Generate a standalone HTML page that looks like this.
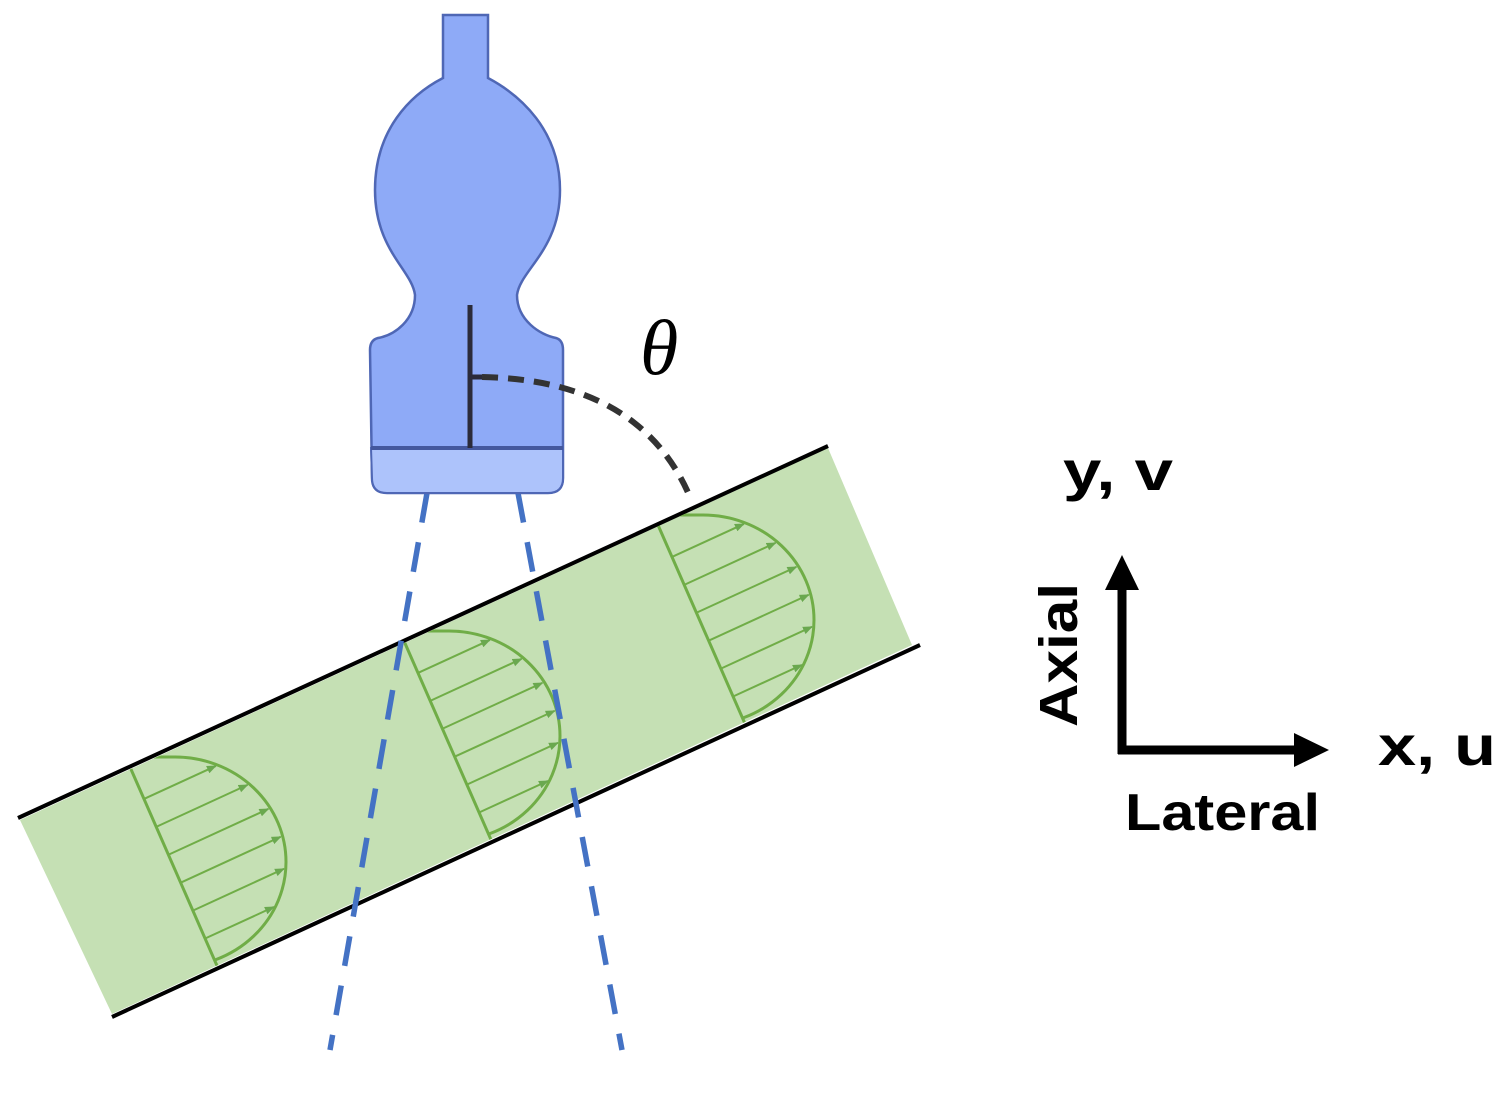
<!DOCTYPE html>
<html><head><meta charset="utf-8"><style>html,body{margin:0;padding:0;background:#fff}svg{display:block}</style></head>
<body>
<svg id="s" width="1500" height="1095" viewBox="0 0 1500 1095" xmlns="http://www.w3.org/2000/svg">
<defs id="defs">
<marker id="ga" viewBox="0 0 10 10" refX="9" refY="5" markerWidth="5" markerHeight="5" orient="auto"><path d="M0,1 L10,5 L0,9 z" fill="#6aa84f"/></marker>
<clipPath id="band"><polygon points="20,820 828,448 912,645 112,1014"/></clipPath>
</defs>
<polygon points="20,820 828,448 912,645 112,1014" fill="#c5e0b4"/>
<line x1="18" y1="818" x2="828" y2="446" stroke="#000" stroke-width="4"/>
<line x1="112" y1="1017" x2="920" y2="645" stroke="#000" stroke-width="4"/>
<g clip-path="url(#band)"><g id="prof" fill="none" stroke="#70ad47" stroke-width="3"></g></g>
<line x1="427" y1="493" x2="330" y2="1050" stroke="#4472c4" stroke-width="5.5" stroke-dasharray="30,20"/>
<line x1="518" y1="493" x2="622" y2="1050" stroke="#4472c4" stroke-width="5.5" stroke-dasharray="30,20"/>
<path d="M443,15 L488,15 L488,78 C520,95 560,130 560,190 C560,250 520,270 517,295 C517,320 540,335 556,338 Q563,340 563,350 L563,478 Q563,493 548,493 L387,493 Q372,493 372,478 L370,350 Q370,340 378,338 C395,335 415,320 415,295 C412,270 375,250 375,190 C375,130 410,95 443,78 Z" fill="#8eaaf7" stroke="#4f67b5" stroke-width="2.5"/>
<path d="M371,448 L563,448 L563,478 Q563,493 548,493 L387,493 Q372,493 372,478 Z" fill="#adc3fb" stroke="#4f67b5" stroke-width="2"/>
<line x1="371" y1="448" x2="563" y2="448" stroke="#44589e" stroke-width="4"/>
<line x1="470" y1="305" x2="470" y2="448" stroke="#2b2b3a" stroke-width="5"/>
<line x1="470" y1="377" x2="482" y2="377" stroke="#2b2b3a" stroke-width="5"/>
<path d="M482,377 Q640,380 690,497" fill="none" stroke="#333" stroke-width="6" stroke-dasharray="16,10"/>
<text x="640" y="374" font-family="Liberation Serif, serif" font-style="italic" font-size="78">θ</text>
<line x1="1122" y1="754" x2="1122" y2="585" stroke="#000" stroke-width="9"/>
<polygon points="1122,555 1105,590 1139,590" fill="#000"/>
<line x1="1118" y1="750" x2="1298" y2="750" stroke="#000" stroke-width="9"/>
<polygon points="1329,750 1294,733 1294,767" fill="#000"/>
<g font-family="Liberation Sans, sans-serif" font-weight="bold" fill="#000">
<text x="1063" y="490" font-size="56" textLength="110" lengthAdjust="spacingAndGlyphs">y, v</text>
<text x="1378" y="765" font-size="56" textLength="118" lengthAdjust="spacingAndGlyphs">x, u</text>
<text x="1125" y="830" font-size="52" textLength="195" lengthAdjust="spacingAndGlyphs">Lateral</text>
<text transform="translate(1077,727) rotate(-90)" font-size="54" textLength="144" lengthAdjust="spacingAndGlyphs">Axial</text>
</g>
</svg>
<script>
(function(){
var root=document.getElementById('prof'),defs=document.getElementById('defs'),NS='http://www.w3.org/2000/svg';
var u=[0.909,-0.4175];
var offs=[[0,0],[274,-126],[528,-242]];
var A0=[130,767],B0=[218,968],C0=[175,862],rx=111,ry=105;
function mk(n,a,p){var e=document.createElementNS(NS,n);for(var k in a)e.setAttribute(k,a[k]);p.appendChild(e);return e;}
offs.forEach(function(o,i){
var A=[A0[0]+o[0],A0[1]+o[1]],B=[B0[0]+o[0],B0[1]+o[1]],C=[C0[0]+o[0],C0[1]+o[1]];
var dx=B[0]-A[0],dy=B[1]-A[1],L=Math.hypot(dx,dy);dx/=L;dy/=L;
var P1=[A[0]-dx*60,A[1]-dy*60],P2=[B[0]+dx*60,B[1]+dy*60];
var cp=mk('clipPath',{id:'pc'+i},defs);
mk('polygon',{points:P1.join(',')+' '+(P1[0]+400)+','+P1[1]+' '+(P2[0]+400)+','+P2[1]+' '+P2.join(',')},cp);
mk('line',{x1:A[0],y1:A[1],x2:B[0],y2:B[1]},root);
var g=mk('g',{'clip-path':'url(#pc'+i+')'},root);
mk('path',{d:'M'+(A[0]-20)+','+(C[1]-ry)+' L'+C[0]+','+(C[1]-ry)+' A'+rx+','+ry+' 0 0 1 '+C[0]+','+(C[1]+ry)},g);
for(var k=1;k<=6;k++){
var s=k/7.2+0.02;
var S=[A[0]+s*(B[0]-A[0]),A[1]+s*(B[1]-A[1])];
var ex=(S[0]-C[0])/rx,ey=(S[1]-C[1])/ry,ux=u[0]/rx,uy=u[1]/ry;
var a=ux*ux+uy*uy,b=2*(ex*ux+ey*uy),c=ex*ex+ey*ey-1;
var disc=b*b-4*a*c;if(disc<0)continue;
var t=(-b+Math.sqrt(disc))/(2*a);
if(t<10)continue;
mk('line',{x1:S[0],y1:S[1],x2:S[0]+(t-2)*u[0],y2:S[1]+(t-2)*u[1],'stroke-width':2,'marker-end':'url(#ga)'},root);
}
});
})();
</script>
</body></html>
